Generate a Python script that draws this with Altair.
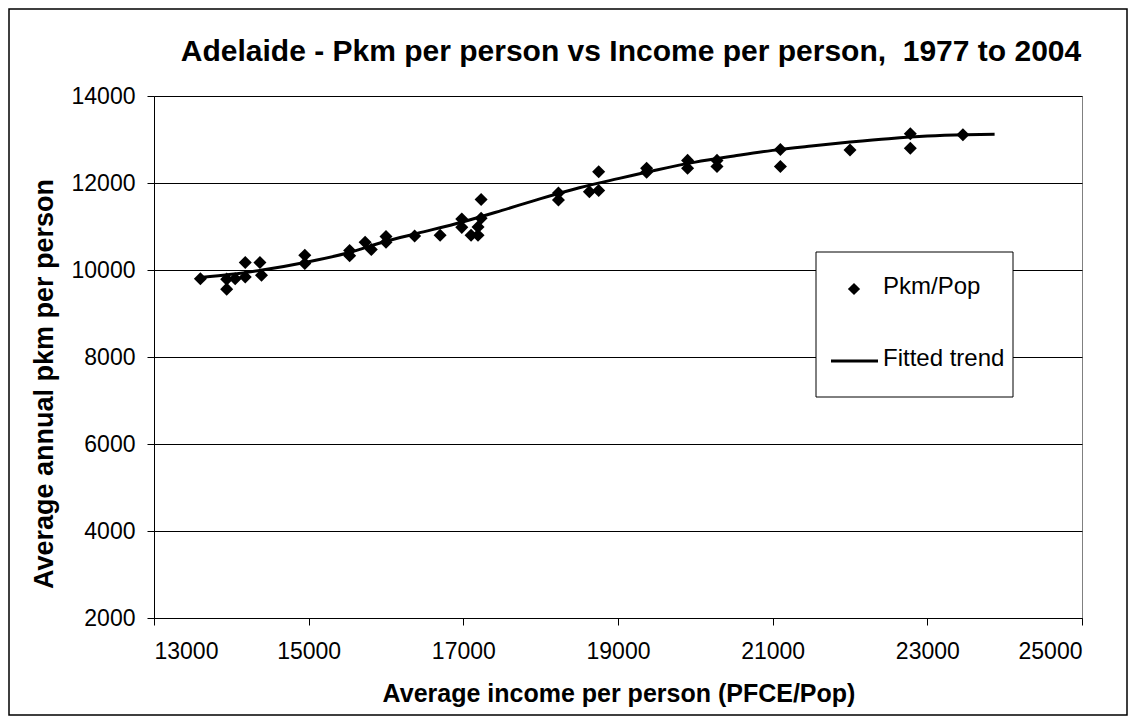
import altair as alt
import pandas as pd

# Scatter data: average income per person vs average annual pkm per person
income = [13600, 13940, 13940, 14050, 14180, 14180, 14370, 14390, 14950, 14950,
          15530, 15530, 15730, 15810, 16000, 16000, 16370, 16700, 16980, 16980,
          17100, 17190, 17190, 17230, 17230, 18230, 18230, 18630, 18750, 18750,
          19370, 19370, 19900, 19900, 20280, 20280, 21100, 21100, 22000, 22780,
          22780, 23460]
pkm = [9800, 9560, 9790, 9800, 10170, 9840, 10170, 9880, 10340, 10150,
       10450, 10330, 10640, 10470, 10770, 10640, 10780, 10800, 11170, 10980,
       10800, 10800, 10990, 11190, 11620, 11770, 11610, 11800, 11830, 12260,
       12340, 12250, 12520, 12340, 12520, 12380, 12770, 12380, 12760, 13130,
       12800, 13110]

# Fitted trend line
trend_x = [13600, 14000, 14400, 15000, 15500, 16000, 16400, 17000, 17500, 18000,
           18500, 19000, 19500, 20000, 20500, 21000, 21500, 22000, 22500, 23000,
           23500, 23870]
trend_y = [9830, 9900, 10000, 10190, 10390, 10660, 10840, 11110, 11370, 11640,
           11890, 12100, 12300, 12480, 12620, 12750, 12850, 12940, 13020, 13080,
           13110, 13120]

x_ticks = [13000, 15000, 17000, 19000, 21000, 23000, 25000]
y_ticks = [2000, 4000, 6000, 8000, 10000, 12000, 14000]

title_text = "Adelaide - Pkm per person vs Income per person, \u00a01977 to 2004"
x_title = "Average income per person (PFCE/Pop)"
y_title = "Average annual pkm per person"
legend_labels = ["Pkm/Pop", "Fitted trend"]

FONT = "Liberation Sans"

pts = pd.DataFrame({"income": income, "pkm": pkm})
trend = pd.DataFrame({"income": trend_x, "pkm": trend_y})

xs = alt.Scale(domain=[13000, 25000], nice=False, zero=False)
ys = alt.Scale(domain=[2000, 14000], nice=False, zero=False)

x_axis = alt.Axis(values=x_ticks, format="d", title=None, grid=False,
                  labelFont=FONT, labelFontSize=23, labelColor="black",
                  tickSize=7, tickColor="black", domainColor="black",
                  labelPadding=15)
y_axis = alt.Axis(values=y_ticks, format="d", title=None, grid=True,
                  gridColor="#000000", gridWidth=1,
                  labelFont=FONT, labelFontSize=23, labelColor="black",
                  tickSize=7, tickColor="black", domainColor="black",
                  labelPadding=12)

points = alt.Chart(pts).mark_point(shape="diamond", filled=True, color="black",
                                   size=170, opacity=1).encode(
    x=alt.X("income:Q", scale=xs, axis=x_axis),
    y=alt.Y("pkm:Q", scale=ys, axis=y_axis),
)

line = alt.Chart(trend).mark_line(color="black", strokeWidth=3,
                                  interpolate="monotone").encode(
    x=alt.X("income:Q", scale=xs),
    y=alt.Y("pkm:Q", scale=ys),
)

one = alt.Data(values=[{"a": 1}])

legend_box = alt.Chart(one).mark_rect(fill="white", stroke="black",
                                      strokeWidth=1).encode(
    x=alt.value(662), x2=alt.value(859), y=alt.value(156), y2=alt.value(301))

legend_diamond = alt.Chart(one).mark_point(shape="diamond", filled=True,
                                           color="black", size=150,
                                           opacity=1).encode(
    x=alt.value(700), y=alt.value(193))

legend_line = alt.Chart(one).mark_rule(color="black", strokeWidth=3).encode(
    x=alt.value(677), x2=alt.value(724), y=alt.value(265))

legend_t1 = alt.Chart(one).mark_text(text=legend_labels[0], font=FONT,
                                     fontSize=24, align="left",
                                     baseline="alphabetic", color="black").encode(
    x=alt.value(729), y=alt.value(198))
legend_t2 = alt.Chart(one).mark_text(text=legend_labels[1], font=FONT,
                                     fontSize=24, align="left",
                                     baseline="alphabetic", color="black").encode(
    x=alt.value(729), y=alt.value(270))

title_mark = alt.Chart(one).mark_text(text=title_text, font=FONT, fontSize=30,
                                      fontWeight="bold", align="center",
                                      baseline="alphabetic", color="black").encode(
    x=alt.value(477), y=alt.value(-35))

xtitle_mark = alt.Chart(one).mark_text(text=x_title, font=FONT, fontSize=25,
                                       fontWeight="bold", align="center",
                                       baseline="alphabetic", color="black").encode(
    x=alt.value(465), y=alt.value(606))

ytitle_mark = alt.Chart(one).mark_text(text=y_title, font=FONT, fontSize=27,
                                       fontWeight="bold", align="center",
                                       baseline="alphabetic", angle=270,
                                       color="black").encode(
    x=alt.value(-101), y=alt.value(288))

outer = alt.Chart(one).mark_rect(filled=False, color="black",
                                 strokeWidth=1.5).encode(
    x=alt.value(-145), x2=alt.value(973), y=alt.value(-87), y2=alt.value(619))

chart = alt.layer(
    line, points, legend_box, legend_diamond, legend_line, legend_t1, legend_t2,
    title_mark, xtitle_mark, ytitle_mark, outer
).properties(
    width=928, height=522,
    autosize=alt.AutoSizeParams(type="none"),
    padding={"left": 146, "top": 88, "right": 46, "bottom": 99},
    background="white",
).configure_view(stroke="#808080", strokeWidth=1)

chart.save("out.html", embed_options={"renderer": "svg", "actions": False})
